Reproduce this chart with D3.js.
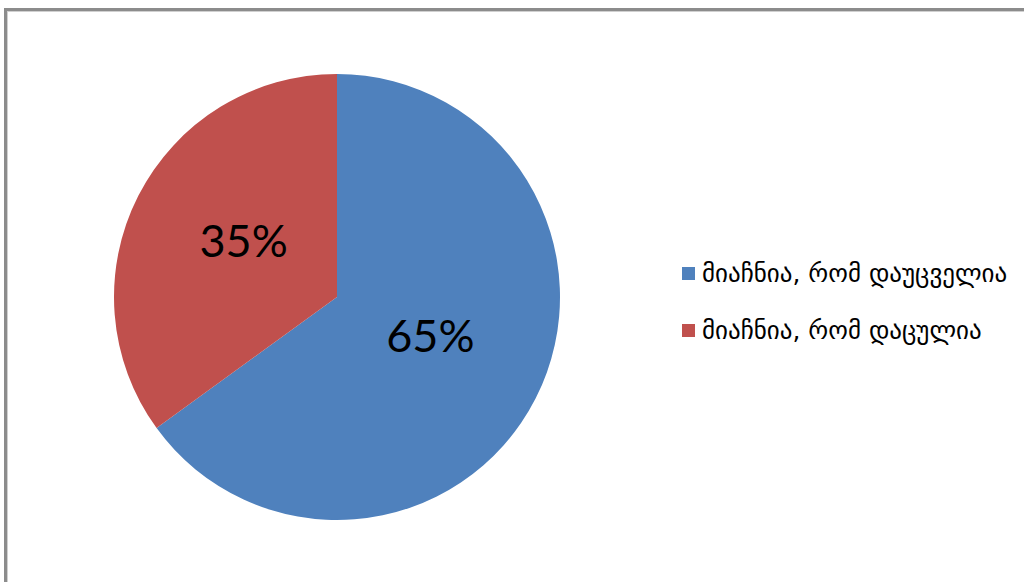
<!DOCTYPE html>
<html>
<head>
<meta charset="utf-8">
<script src="https://cdn.jsdelivr.net/npm/d3@7"></script>
<style>
  html, body { margin: 0; padding: 0; background: #fff; }
  svg { display: block; }
</style>
</head>
<body>
<svg id="chart" width="1024" height="582"></svg>
<script>
// Survey shares (percent)
const categories = ["მიაჩნია, რომ დაუცველია", "მიაჩნია, რომ დაცულია"];
const values = [65, 35];
const labels = ["65%", "35%"];
const colors = ["#4F81BD", "#C0504D"];

const svg = d3.select("#chart");

// Chart frame (runs off the right and bottom edges)
svg.append("rect")
  .attr("x", 5.5).attr("y", 9.5)
  .attr("width", 1040).attr("height", 600)
  .attr("fill", "none")
  .attr("stroke", "#8c8c8c")
  .attr("stroke-width", 3);
svg.append("rect")
  .attr("x", 7.5).attr("y", 11.5)
  .attr("width", 1040).attr("height", 600)
  .attr("fill", "none")
  .attr("stroke", "#d0d0d0")
  .attr("stroke-width", 1);

const cx = 337, cy = 297, R = 223;

const pie = d3.pie().sort(null).value(d => d)(values);
const arc = d3.arc().innerRadius(0).outerRadius(R);
const labelArc = d3.arc().innerRadius(R * 0.47).outerRadius(R * 0.47);

const g = svg.append("g").attr("transform", `translate(${cx},${cy})`);

g.selectAll("path.slice")
  .data(pie)
  .join("path")
  .attr("class", "slice")
  .attr("d", arc)
  .attr("fill", (d, i) => colors[i]);

g.selectAll("text.pct")
  .data(pie)
  .join("text")
  .attr("class", "pct")
  .attr("transform", d => `translate(${labelArc.centroid(d)})`)
  .attr("text-anchor", "middle")
  .attr("dy", "0.16em")
  .attr("font-family", "Lato, 'Open Sans', sans-serif")
  .attr("font-size", 45)
  .attr("fill", "#000")
  .text((d, i) => labels[i]);

// Legend
const legend = svg.append("g").attr("transform", "translate(682,267)");
const item = legend.selectAll("g.item")
  .data(categories)
  .join("g")
  .attr("class", "item")
  .attr("transform", (d, i) => `translate(0,${i * 57})`);

item.append("rect")
  .attr("x", 0).attr("y", 0)
  .attr("width", 13).attr("height", 13)
  .attr("fill", (d, i) => colors[i]);

item.append("text")
  .attr("x", 20).attr("y", 15)
  .attr("font-family", "'DejaVu Sans', sans-serif")
  .attr("font-size", 25)
  .attr("fill", "#000")
  .text(d => d);
</script>
</body>
</html>
